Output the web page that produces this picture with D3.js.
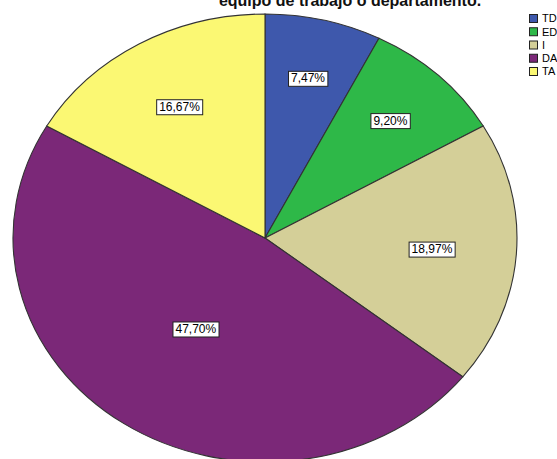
<!DOCTYPE html>
<html>
<head>
<meta charset="utf-8">
<script src="https://cdn.jsdelivr.net/npm/d3@7"></script>
<style>
  html, body { margin: 0; padding: 0; background: #fff; }
  svg { display: block; font-family: "Liberation Sans", Arial, sans-serif; }
</style>
</head>
<body>
<svg id="chart" width="557" height="459"></svg>
<script>
// Categories, their shares (%) and fill colours
const categories = ["TD", "ED", "I", "DA", "TA"];
const values = [7.47, 9.20, 18.97, 47.70, 16.67];
const colors = ["#3e58ac", "#2eb848", "#d4cf98", "#7b2878", "#fbf873"];
const titleLines = ["equipo de trabajo o departamento."];

const svg = d3.select("#chart");

// Elliptical pie: drawn as a circle, then stretched
const cx = 265, cy = 238, rx = 252, ry = 224;
const R = 100;

const data = categories.map((c, i) => ({ cat: c, value: values[i], color: colors[i] }));
const pie = d3.pie().sort(null).value(d => d.value);
const arcs = pie(data);
const arc = d3.arc().innerRadius(0).outerRadius(R);

const g = svg.append("g")
  .attr("transform", `translate(${cx},${cy}) scale(${rx / R},${ry / R})`);

g.selectAll("path.slice")
  .data(arcs)
  .join("path")
  .attr("class", "slice")
  .attr("d", arc)
  .attr("fill", d => d.data.color)
  .attr("stroke", "#333")
  .attr("stroke-width", 1.1)
  .attr("vector-effect", "non-scaling-stroke");

// Percentage labels in boxes; bigger slices get labels nearer the centre
const fmt = v => d3.format(".2f")(v).replace(".", ",") + "%";
const labels = svg.append("g");
arcs.forEach(a => {
  const mid = (a.startAngle + a.endAngle) / 2;
  const f = 0.78 - 0.0061 * a.data.value;
  const x = cx + rx * f * Math.sin(mid);
  const y = cy - ry * f * Math.cos(mid);
  const lg = labels.append("g").attr("transform", `translate(${x},${y})`);
  const t = lg.append("text")
    .attr("text-anchor", "middle")
    .attr("dy", "0.36em")
    .attr("font-size", 12)
    .attr("fill", "#000")
    .text(fmt(a.data.value));
  const bb = t.node().getBBox();
  lg.insert("rect", "text")
    .attr("x", bb.x - 2.5)
    .attr("y", bb.y)
    .attr("width", bb.width + 5)
    .attr("height", bb.height + 1)
    .attr("fill", "#fff")
    .attr("stroke", "#222")
    .attr("stroke-width", 1);
});

// Title (partly above the visible area)
svg.append("g").selectAll("text")
  .data(titleLines)
  .join("text")
  .attr("x", 350)
  .attr("y", (d, i) => 6 + i * 18)
  .attr("text-anchor", "middle")
  .attr("font-size", 16)
  .attr("font-weight", "bold")
  .attr("fill", "#111")
  .text(d => d);

// Legend
const leg = svg.append("g").attr("transform", "translate(529.5,14.5)");
const ly = d3.scaleBand().domain(categories).range([0, 66.25]);
const li = leg.selectAll("g").data(data).join("g")
  .attr("transform", d => `translate(0,${ly(d.cat)})`);
li.append("rect")
  .attr("width", 8).attr("height", 8)
  .attr("fill", d => d.color)
  .attr("stroke", "#222").attr("stroke-width", 1);
li.append("text")
  .attr("x", 12.5).attr("y", 4).attr("dy", "0.36em")
  .attr("font-size", 11)
  .attr("fill", "#000")
  .text(d => d.cat);
</script>
</body>
</html>
